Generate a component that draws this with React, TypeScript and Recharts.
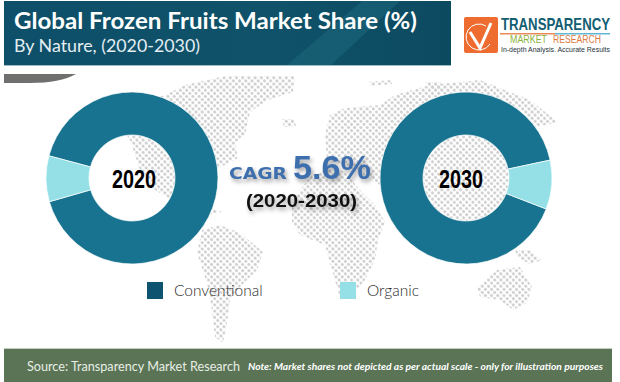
import { Cell, Legend, Pie, PieChart } from 'recharts'

const categories = ['Conventional', 'Organic']
const share2020 = [91.4, 8.6]
const share2030 = [90.8, 9.2]
const sliceColors = ['#17738f', '#94e0e6']
const legendColors = ['#0e5470', '#94e0e6']

const rows2020 = categories.map((name, i) => ({ name, value: share2020[i] }))
const rows2030 = categories.map((name, i) => ({ name, value: share2030[i] }))

// rough continent outlines, filled with the dot pattern behind the donuts
const mapShapes = [
    '165,95 185,85 225,76 295,76 293,92 268,100 250,112 245,135 235,143 238,158 225,165 205,172 195,190 205,205 222,212 205,215 180,205 155,190 140,170 130,140 120,125 135,105',
    '282,119 294,119 296,126 284,127',
    '202,230 220,225 240,233 263,252 257,270 240,287 230,300 227,323 223,343 215,337 212,310 207,283 197,253',
    '292,205 300,190 312,175 330,168 345,172 360,190 375,205 385,222 378,240 375,260 365,280 350,298 340,298 332,270 325,245 300,235 292,222',
    '325,135 330,115 345,108 380,105 395,95 430,85 480,80 530,100 558,122 525,130 520,170 505,215 510,225 480,235 460,240 430,225 410,210 390,195 380,185 345,165 327,160',
    '477,287 497,270 520,267 532,287 527,303 513,310 500,300 480,297',
    '515,250 530,250 542,260 530,264 518,258',
    '368,82 392,80 392,84 370,86',
    '425,82 440,82 445,90 432,90',
]

const condensed = '"Liberation Sans Narrow", "Liberation Sans", sans-serif'

const Backdrop = () => (
    <svg width={620} height={382} style={{ position: 'absolute', left: 0, top: 0 }}>
        <defs>
            <pattern id="dots" width={4.4} height={4.4} patternUnits="userSpaceOnUse" patternTransform="rotate(45)">
                <circle cx={2.2} cy={2.2} r={1.6} fill="#d0d0d0" />
            </pattern>
            <linearGradient id="head" x1="0" y1="0" x2="1" y2="0">
                <stop offset="0" stopColor="#0e4f69" />
                <stop offset="0.6" stopColor="#0f5269" />
                <stop offset="1" stopColor="#0c4a60" />
            </linearGradient>
        </defs>
        {mapShapes.map((points) => (
            <polygon key={points} points={points} fill="url(#dots)" />
        ))}
        <rect x={4} y={1} width={447} height={65} fill="url(#head)" />
        <polygon points="286,66 362,1 400,1 330,66" fill="#1a6277" opacity={0.7} />
        <rect x={4} y={65} width={447} height={1} fill="#9dbcc6" />
        <path d="M4 74 H76 Q60 83 30 83 H4 Z" fill="#6f6f6d" />
        <text x={14} y={29} fontFamily="Lato" fontWeight={700} fontSize={23} fill="#fff" textLength={403} lengthAdjust="spacingAndGlyphs">
            Global Frozen Fruits Market Share (%)
        </text>
        <text x={14} y={52} fontFamily="Lato" fontSize={18} fill="#e4eef2" textLength={186} lengthAdjust="spacingAndGlyphs">
            By Nature, (2020-2030)
        </text>

        <rect x={464} y={17} width={34} height={36} rx={2} fill="#ee6c30" />
        <path d="M470 32 L480 48 L491 23" fill="none" stroke="#fff" strokeWidth={3} />
        <path d="M486 26 A13 13 0 1 0 490 44" fill="none" stroke="#fff" strokeWidth={1} />
        <text x={501} y={30} fontFamily={condensed} fontWeight={700} fontSize={16.5} fill="#125e73" textLength={109} lengthAdjust="spacingAndGlyphs">
            TRANSPARENCY
        </text>
        <rect x={500} y={33} width={55} height={1.5} fill="#e98a5a" />
        <rect x={555} y={33} width={55} height={1.5} fill="#5fb6d6" />
        <text x={510} y={43} fontFamily={condensed} fontSize={10} fill="#8ab43c" textLength={37} lengthAdjust="spacingAndGlyphs">
            MARKET
        </text>
        <text x={553} y={43} fontFamily={condensed} fontSize={10} fill="#dc7a3f" textLength={48} lengthAdjust="spacingAndGlyphs">
            RESEARCH
        </text>
        <text x={501} y={52} fontFamily={condensed} fontSize={8} fill="#25323a" textLength={109} lengthAdjust="spacingAndGlyphs">
            In-depth Analysis. Accurate Results
        </text>

        <rect x={4} y={349} width={608} height={33} fill="#5a7455" />
        <rect x={4} y={348} width={608} height={1} fill="#c3d0c0" />
        <text x={27} y={371} fontFamily="Lato" fontSize={14} fill="#e8eee6" textLength={213} lengthAdjust="spacingAndGlyphs">
            Source: Transparency Market Research
        </text>
        <text x={248} y={370} fontFamily="Lato" fontStyle="italic" fontWeight={700} fontSize={9.5} fill="#fff" textLength={355} lengthAdjust="spacingAndGlyphs">
            Note: Market shares not depicted as per actual scale - only for illustration purposes
        </text>
    </svg>
)

const LegendRow = () => (
    <div style={{ display: 'flex', fontFamily: 'Lato', fontWeight: 300, fontSize: 15.5, color: '#2b2b2b', lineHeight: '17px' }}>
        {categories.map((name, i) => (
            <div key={name} style={{ display: 'flex', width: 193 }}>
                <span style={{ width: 16, height: 17, marginRight: 11, background: legendColors[i] }} />
                <span>{name}</span>
            </div>
        ))}
    </div>
)

const App = () => {
    return (
        <div style={{ position: 'absolute', left: 0, top: 0, width: 620, height: 382, background: '#fff', overflow: 'hidden' }}>
            <Backdrop />
            <div style={{ position: 'absolute', left: 0, top: 0 }}>
                <PieChart width={620} height={382} margin={{ top: 0, right: 0, bottom: 0, left: 0 }}>
                    <Pie data={rows2020} dataKey="value" nameKey="name" cx={132} cy={178} innerRadius={43} outerRadius={86} startAngle={196} endAngle={556} stroke="#fff" strokeWidth={0.7} isAnimationActive={false}>
                        {rows2020.map((row, i) => (
                            <Cell key={row.name} fill={sliceColors[i]} />
                        ))}
                    </Pie>
                    <Pie data={rows2030} dataKey="value" nameKey="name" cx={466} cy={178} innerRadius={43} outerRadius={86} startAngle={12} endAngle={372} stroke="#fff" strokeWidth={0.7} isAnimationActive={false}>
                        {rows2030.map((row, i) => (
                            <Cell key={row.name} fill={sliceColors[i]} />
                        ))}
                    </Pie>
                    <Legend content={<LegendRow />} wrapperStyle={{ position: 'absolute', left: 147, top: 282, bottom: 'auto', width: 400 }} />
                    <text x={142} y={131} fontFamily={condensed} fontWeight={700} fontSize={22} fill="#e6f7f8" textLength={44} lengthAdjust="spacingAndGlyphs">
                        91.4%
                    </text>
                    <text x={112} y={188} fontFamily={condensed} fontWeight={700} fontSize={26} fill="#000" textLength={44} lengthAdjust="spacingAndGlyphs">
                        2020
                    </text>
                    <text x={439} y={188} fontFamily={condensed} fontWeight={700} fontSize={26} fill="#000" textLength={44} lengthAdjust="spacingAndGlyphs">
                        2030
                    </text>
                    <g style={{ filter: 'drop-shadow(2px 3px 2px rgba(0,0,0,0.35))' }}>
                        <text x={229} y={179} fontFamily="DejaVu Sans" fontWeight={700} fontSize={16} fill="#3d6fae" textLength={58} lengthAdjust="spacingAndGlyphs">
                            CAGR
                        </text>
                        <text x={293} y={179} fontFamily="Liberation Sans" fontWeight={700} fontSize={33} fill="#3d6fae" textLength={78} lengthAdjust="spacingAndGlyphs">
                            5.6%
                        </text>
                        <text x={246} y={207} fontFamily="Liberation Sans" fontWeight={700} fontSize={18} fill="#111" textLength={111} lengthAdjust="spacingAndGlyphs">
                            (2020-2030)
                        </text>
                    </g>
                </PieChart>
            </div>
        </div>
    )
}

export default App
